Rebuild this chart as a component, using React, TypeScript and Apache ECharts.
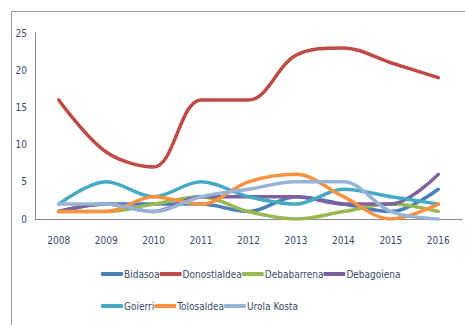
import React, { useEffect, useRef } from "react";
import * as echarts from "echarts";

const years = ["2008", "2009", "2010", "2011", "2012", "2013", "2014", "2015", "2016"];
const bidasoa = [1, 2, 2, 2, 1, 3, 2, 1, 4];
const donostialdea = [16, 9, 7, 16, 16, 22, 23, 21, 19];
const debabarrena = [1, 1, 2, 3, 1, 0, 1, 2, 1];
const debagoiena = [1, 2, 1, 3, 3, 3, 2, 2, 6];
const goierri = [2, 5, 3, 5, 3, 2, 4, 3, 2];
const tolosaldea = [1, 1, 3, 2, 5, 6, 3, 0, 2];
const urolaKosta = [2, 2, 1, 3, 4, 5, 5, 1, 0];

const seriesDefs = [
  { name: "Bidasoa", data: bidasoa, color: "#4A7EBB" },
  { name: "Donostialdea", data: donostialdea, color: "#BE4B48" },
  { name: "Debabarrena", data: debabarrena, color: "#98B954" },
  { name: "Debagoiena", data: debagoiena, color: "#7D60A0" },
  { name: "Goierri", data: goierri, color: "#46AAC5" },
  { name: "Tolosaldea", data: tolosaldea, color: "#F69240" },
  { name: "Urola Kosta", data: urolaKosta, color: "#98B3D8" },
];

const FONT = "'DejaVu Sans Condensed', 'Liberation Sans Narrow', 'Liberation Sans', sans-serif";
const TEXT_COLOR = "#3B4B6B";

export default function App() {
  const ref = useRef<HTMLDivElement>(null);
  useEffect(() => {
    if (!ref.current) return;
    const chart = echarts.init(ref.current, null, { renderer: "svg" });
    const legendCommon = {
      orient: "horizontal" as const,
      itemGap: 0,
      itemWidth: 22,
      itemHeight: 4,
      padding: 0,
      icon: "roundRect",
      textStyle: { fontFamily: FONT, fontSize: 10, color: TEXT_COLOR, width: 46, padding: [0, 0, 0, -4] },
    };
    chart.setOption({
      animation: false,
      backgroundColor: "#ffffff",
      graphic: [
        {
          type: "rect",
          shape: { x: 11.5, y: 11.5, width: 470, height: 330 },
          style: { fill: "none", stroke: "#9a9a9a", lineWidth: 1 },
          silent: true,
        },
      ],
      grid: { left: 35, top: 33, width: 427, height: 186, containLabel: false },
      legend: [
        { ...legendCommon, left: 101, top: 269, data: seriesDefs.slice(0, 4).map((s) => s.name) },
        { ...legendCommon, left: 101, top: 301, data: seriesDefs.slice(4).map((s) => s.name) },
      ],
      xAxis: {
        type: "category",
        data: years,
        boundaryGap: true,
        axisLine: { lineStyle: { color: "#8c8c8c", width: 1 } },
        axisTick: { show: false },
        axisLabel: { fontFamily: FONT, fontSize: 10, color: TEXT_COLOR, margin: 16 },
      },
      yAxis: {
        type: "value",
        min: 0,
        max: 25,
        interval: 5,
        axisLine: { show: true, lineStyle: { color: "#8c8c8c", width: 1 } },
        axisTick: { show: false },
        splitLine: { show: false },
        axisLabel: { fontFamily: FONT, fontSize: 10, color: TEXT_COLOR, margin: 8 },
      },
      series: seriesDefs.map((s) => ({
        name: s.name,
        type: "line",
        data: s.data,
        smooth: 0.35,
        showSymbol: false,
        symbol: "none",
        lineStyle: { color: s.color, width: 3.5, cap: "round", join: "round" },
        itemStyle: { color: s.color },
      })),
    });
    return () => chart.dispose();
  }, []);
  return <div ref={ref} style={{ width: 465, height: 325, position: "absolute", left: 0, top: 0 }} />;
}
